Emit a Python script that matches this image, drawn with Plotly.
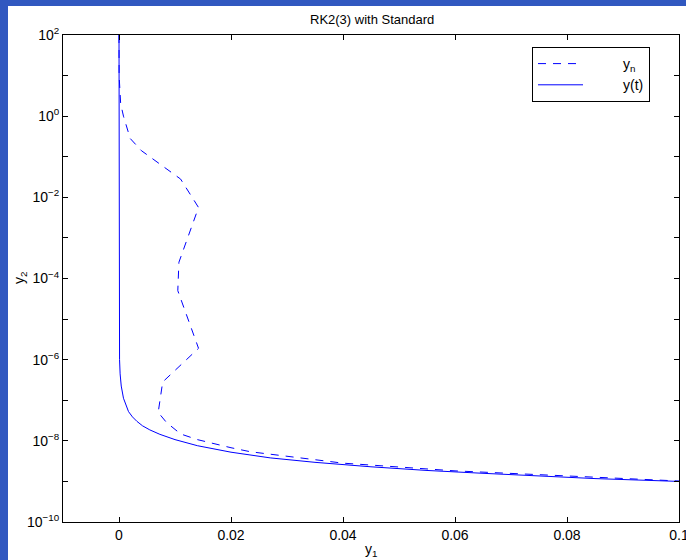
import plotly.graph_objects as go

# exact solution y(t)
yt_y1 = [0.0, 0.00001, 0.00005, 0.0001, 0.0002, 0.0004, 0.0008, 0.0012, 0.0017, 0.0024, 0.0032, 0.0042,
         0.0055, 0.0073, 0.0100, 0.0140, 0.020, 0.027, 0.035, 0.045, 0.055, 0.065, 0.075, 0.085, 0.1]
yt_exp = [2.0, -5.0, -5.7, -6.0, -6.35, -6.65, -6.95, -7.12, -7.28, -7.41, -7.52, -7.63,
          -7.73, -7.84, -7.97, -8.12, -8.28, -8.42, -8.53, -8.64, -8.73, -8.80, -8.87, -8.93, -9.0]
yt_y2 = [10 ** e for e in yt_exp]

# numerical solution y_n (RK2(3), standard controller)
yn_y1 = [0.0, 0.00002, 0.0003, 0.0008, 0.002, 0.004, 0.011, 0.0142, 0.0107, 0.0105, 0.0142, 0.0078,
         0.0070, 0.0085, 0.0110, 0.0140, 0.020, 0.0235, 0.030, 0.04, 0.06, 0.08, 0.1]
yn_exp = [2.0, 1.0, 0.3, 0.0, -0.55, -0.85, -1.55, -2.25, -3.6, -4.3, -5.72, -6.55,
          -7.3, -7.55, -7.83, -7.97, -8.17, -8.27, -8.38, -8.55, -8.74, -8.87, -8.99]
yn_y2 = [10 ** e for e in yn_exp]

xtick_vals = [0, 0.02, 0.04, 0.06, 0.08, 0.1]
xtick_text = ["0", "0.02", "0.04", "0.06", "0.08", "0.1"]
ytick_exps = list(range(-10, 3))

BLUE_BG = "#3158C0"
OX, OY = 8, 6  # page offset of the white figure (blue slide border)
W, H = 686 - OX, 560 - OY
L, R, T, B = 63 - OX, 7, 35 - OY, 38
pw, ph = W - L - R, H - T - B


def px(x):
    return (x - OX - L) / pw


def py(y):
    return (H - B - (y - OY)) / ph


FONT = "Liberation Sans, Arial, Helvetica"

fig = go.Figure()
fig.add_trace(go.Scatter(x=yn_y1, y=yn_y2, mode="lines",
                         name="\u00a0" * 9 + "y<sub>n</sub>",
                         line=dict(color="#0000FF", width=1, dash="8px,7px")))
fig.add_trace(go.Scatter(x=yt_y1, y=yt_y2, mode="lines",
                         name="\u00a0" * 9 + "y(t)",
                         line=dict(color="#0000FF", width=1)))

ytext = [("10<sup>%s</sup>" % (str(k).replace("-", "\u2212")) if k % 2 == 0 else "") for k in ytick_exps]

axis_common = dict(showline=True, linecolor="black", linewidth=1, mirror="ticks",
                   ticks="inside", ticklen=5, tickcolor="black", showgrid=False, zeroline=False,
                   ticklabeloverflow="allow", automargin=False,
                   tickfont=dict(family=FONT, size=14, color="black"))

fig.update_xaxes(range=[-0.01, 0.1], tickvals=xtick_vals, ticktext=xtick_text, **axis_common)
fig.update_yaxes(type="log", range=[-10, 2], tickvals=[10 ** k for k in ytick_exps], ticktext=ytext, **axis_common)

fig.add_annotation(text="RK2(3) with Standard", xref="paper", yref="paper",
                   x=px(372), y=py(20), xanchor="center", yanchor="middle", showarrow=False,
                   font=dict(family=FONT, size=13, color="black"))
fig.add_annotation(text="y<sub>1</sub>", xref="paper", yref="paper",
                   x=px(371), y=py(550), xanchor="center", yanchor="middle", showarrow=False,
                   font=dict(family=FONT, size=14, color="black"))
fig.add_annotation(text="y<sub>2</sub>", xref="paper", yref="paper", textangle=-90,
                   x=px(20), y=py(278), xanchor="center", yanchor="middle", showarrow=False,
                   font=dict(family=FONT, size=14, color="black"))

fig.update_layout(width=W, height=H, autosize=False,
                  margin=dict(l=L, r=R, t=T, b=B, autoexpand=False),
                  paper_bgcolor="white", plot_bgcolor="white",
                  showlegend=True,
                  legend=dict(x=px(532), y=py(47), xanchor="left", yanchor="top",
                              bgcolor="white", bordercolor="black", borderwidth=1,
                              itemwidth=45, entrywidth=128,
                              font=dict(family=FONT, size=14, color="black")))

fig.write_html("out.html",
               config={"responsive": False, "displayModeBar": False},
               post_script=("document.body.style.margin='%dpx 0 0 %dpx';"
                            "document.body.style.background='%s';"
                            "document.body.style.overflow='hidden';") % (OY, OX, BLUE_BG))
